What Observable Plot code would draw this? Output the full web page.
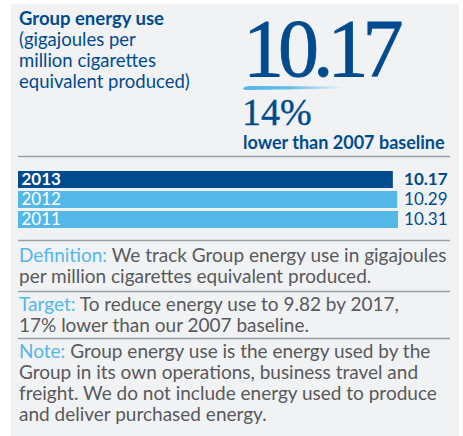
<!DOCTYPE html>
<html>
<head>
<meta charset="utf-8">
<script src="https://cdn.jsdelivr.net/npm/d3@7"></script>
<script src="https://cdn.jsdelivr.net/npm/@observablehq/plot@0.6"></script>
<style>
  html, body { margin: 0; padding: 0; background: #ffffff; }
  #wrap { position: relative; width: 463px; height: 436px; overflow: hidden; }
  #panel { position: absolute; left: 11px; top: 4px; width: 448px; height: 432px; background: #f1f2f4; }
  #chart { position: absolute; left: 0; top: 160px; }
  #overlay { position: absolute; left: 0; top: 0; }
</style>
</head>
<body>
<div id="wrap">
  <div id="panel"></div>
  <svg id="overlay" width="463" height="436"></svg>
  <div id="chart"></div>
</div>
<script>
const years = ["2013", "2012", "2011"];
const values = [10.17, 10.29, 10.31];
const headline = "10.17";
const reduction = "14%";
const reductionText = "lower than 2007 baseline";
const titleLines = ["Group energy use", "(gigajoules per", "million cigarettes", "equivalent produced)"];
const notes = [
  {label: "Definition:", lines: [" We track Group energy use in gigajoules", "per million cigarettes equivalent produced."]},
  {label: "Target:", lines: [" To reduce energy use to 9.82 by 2017,", "17% lower than our 2007 baseline."]},
  {label: "Note:", lines: [" Group energy use is the energy used by the", "Group in its own operations, business travel and", "freight. We do not include energy used to produce", "and deliver purchased energy."]}
];

const DARK = "#004b8d";
const LIGHT = "#53b7e8";
const GRAY = "#58595b";
const SANS = "Lato, 'Open Sans', sans-serif";
const SERIF = "'Liberation Serif', 'DejaVu Serif', serif";

const data = years.map((y, i) => ({year: y, value: values[i], latest: i === 0}));
const latest = data.filter(d => d.latest);
const older = data.filter(d => !d.latest);

const chart = Plot.plot({
  width: 463,
  height: 75,
  margin: 0,
  style: {background: "transparent", fontFamily: SANS},
  x: {domain: [0, 10.31], range: [18, 398], axis: null},
  y: {domain: years, range: [10, 68], paddingInner: 0.15, paddingOuter: 0, axis: null},
  marks: [
    Plot.barX(data, {x: "value", y: "year", fill: d => d.latest ? DARK : LIGHT}),
    Plot.text(latest, {x: 0, y: "year", text: "year", dx: 3, textAnchor: "start", fill: "white",
      fontSize: 17, fontWeight: "bold"}),
    Plot.text(older, {x: 0, y: "year", text: "year", dx: 3, textAnchor: "start", fill: "white",
      fontSize: 17}),
    Plot.text(latest, {x: 10.31, y: "year", text: d => d.value.toFixed(2), dx: 49, textAnchor: "end",
      fill: DARK, fontSize: 17, fontWeight: "bold"}),
    Plot.text(older, {x: 10.31, y: "year", text: d => d.value.toFixed(2), dx: 49, textAnchor: "end",
      fill: DARK, fontSize: 17})
  ]
});
document.getElementById("chart").appendChild(chart);

// Overlay text
const svg = d3.select("#overlay");
const defs = svg.append("defs");
const grad = defs.append("linearGradient").attr("id", "brush").attr("x1", 0).attr("x2", 1);
grad.append("stop").attr("offset", "0%").attr("stop-color", LIGHT).attr("stop-opacity", 1);
grad.append("stop").attr("offset", "45%").attr("stop-color", LIGHT).attr("stop-opacity", 0.9);
grad.append("stop").attr("offset", "100%").attr("stop-color", LIGHT).attr("stop-opacity", 0);

titleLines.forEach((t, i) => {
  svg.append("text").attr("x", 19).attr("y", 25 + i * 21)
    .attr("font-family", SANS).attr("font-size", 18.5)
    .attr("font-weight", i === 0 ? "bold" : "normal")
    .attr("fill", DARK).text(t);
});

svg.append("text").attr("x", 243).attr("y", 76)
  .attr("font-family", SERIF)
  .attr("font-size", 82).attr("letter-spacing", -6)
  .attr("stroke", DARK).attr("stroke-width", 0.8)
  .attr("fill", DARK).text(headline);

svg.append("path")
  .attr("d", "M243,88.5 Q244,86 250,86 L345,86.5 L345,88.5 L250,90 Q244,90.5 243,88.5 Z")
  .attr("fill", "url(#brush)");

svg.append("text").attr("x", 242).attr("y", 125)
  .attr("font-family", SERIF)
  .attr("font-size", 38)
  .attr("stroke", DARK).attr("stroke-width", 0.4)
  .attr("fill", DARK).text(reduction);

svg.append("text").attr("x", 243).attr("y", 149)
  .attr("font-family", SANS).attr("font-size", 18).attr("font-weight", "bold")
  .attr("fill", DARK).text(reductionText);

[156.5, 240.5, 291.5, 338.5].forEach(y => {
  svg.append("line").attr("x1", 18).attr("x2", 450).attr("y1", y).attr("y2", y)
    .attr("stroke", "#9d9fa2").attr("stroke-width", 1.3);
});

const starts = [262, 311, 358];
notes.forEach((n, k) => {
  n.lines.forEach((line, i) => {
    const t = svg.append("text").attr("x", 19).attr("y", starts[k] + i * 21)
      .attr("font-family", SANS).attr("font-size", 19).attr("fill", GRAY);
    if (i === 0) {
      t.append("tspan").attr("fill", LIGHT).text(n.label);
      t.append("tspan").text(line);
    } else {
      t.text(line);
    }
  });
});
</script>
</body>
</html>
